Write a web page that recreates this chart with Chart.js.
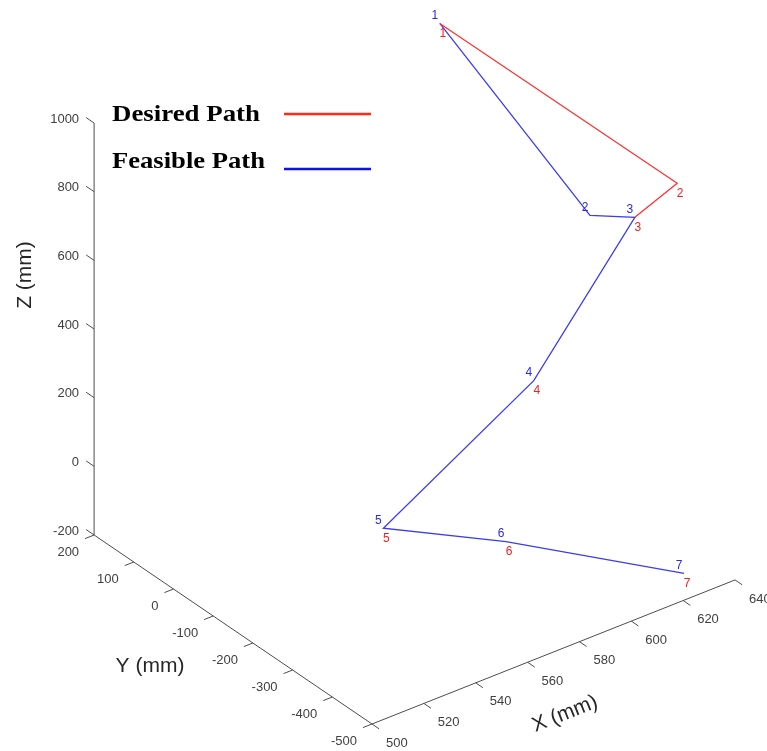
<!DOCTYPE html>
<html>
<head>
<meta charset="utf-8">
<title>Desired vs Feasible Path</title>
<script src="https://cdn.jsdelivr.net/npm/chart.js@4.4.1/dist/chart.umd.min.js"></script>
<style>
    html, body { margin: 0; padding: 0; background: #ffffff; }
    #pathChart { display: block; }
</style>
</head>
<body>
<canvas id="pathChart" width="767" height="751"></canvas>
<script>
// tick values of the three axes
const xTicks = [500, 520, 540, 560, 580, 600, 620, 640];
const yTicks = [200, 100, 0, -100, -200, -300, -400, -500];
const zTicks = [-200, 0, 200, 400, 600, 800, 1000];

// way points (mm)
const pointLabels = ['1', '2', '3', '4', '5', '6', '7'];
const desiredX = [618, 633, 632, 593, 535, 567, 628];
const desiredY = [100, -400, -300, -300, -300, -400, -450];
const desiredZ = [1015, 898, 723, 364, 108, 52, -184];
const feasibleX = [618, 630, 632, 593, 535, 567, 628];
const feasibleY = [100, -200, -300, -300, -300, -400, -450];
const feasibleZ = [1015, 656, 723, 364, 108, 52, -184];

// simple oblique view of the 3d box (axis corner + unit vectors)
const view = {
    x0: 500, y0: -500, z0: -200,
    ox: 372, oy: 724,
    ex: [2.593, -1.029],
    ey: [-0.397, -0.270],
    ez: [0, -0.3433]
};

function project(x, y, z) {
    const dx = x - view.x0, dy = y - view.y0, dz = z - view.z0;
    return {
        x: view.ox + dx * view.ex[0] + dy * view.ey[0] + dz * view.ez[0],
        y: view.oy + dx * view.ex[1] + dy * view.ey[1] + dz * view.ez[1]
    };
}

const xMin = xTicks[0], xMax = xTicks[xTicks.length - 1];
const yMin = yTicks[yTicks.length - 1], yMax = yTicks[0];
const zMin = zTicks[0], zMax = zTicks[zTicks.length - 1];

const axisColor = '#4d4d4d';
const redColor = '#ff3232';
const blueColor = '#3c3cf0';

function segment(a, b, color, width) {
    return {
        data: [a, b],
        showLine: true,
        borderColor: color,
        borderWidth: width,
        pointRadius: 0,
        clip: false
    };
}

// true when the desired point i is the same as the feasible one
function samePoint(i) {
    return desiredX[i] === feasibleX[i] && desiredY[i] === feasibleY[i] && desiredZ[i] === feasibleZ[i];
}

const datasets = [];
// box axes
datasets.push(segment(project(xMin, yMax, zMin), project(xMin, yMax, zMax), axisColor, 1));
datasets.push(segment(project(xMin, yMax, zMin), project(xMin, yMin, zMin), axisColor, 1));
datasets.push(segment(project(xMin, yMin, zMin), project(xMax, yMin, zMin), axisColor, 1));
// tick marks
zTicks.forEach(z => datasets.push(segment(project(xMin, yMax, z), project(xMin, yMax + 20, z), axisColor, 1)));
yTicks.forEach(y => datasets.push(segment(project(xMin, y, zMin), project(xMin - 3.5, y, zMin), axisColor, 1)));
xTicks.forEach(x => datasets.push(segment(project(x, yMin, zMin), project(x, yMin - 18, zMin), axisColor, 1)));

const desiredPts = desiredX.map((x, i) => project(x, desiredY[i], desiredZ[i]));
const feasiblePts = feasibleX.map((x, i) => project(x, feasibleY[i], feasibleZ[i]));

datasets.push({
    label: 'Desired Path',
    data: desiredPts,
    showLine: true,
    borderColor: redColor,
    borderWidth: 1.3,
    pointRadius: 0,
    clip: false,
    // the blue path is drawn on top where both paths coincide
    segment: {
        borderColor: c => (samePoint(c.p0DataIndex) && samePoint(c.p1DataIndex)) ? 'rgba(0,0,0,0)' : redColor
    }
});
datasets.push({
    label: 'Feasible Path',
    data: feasiblePts,
    showLine: true,
    borderColor: blueColor,
    borderWidth: 1.3,
    pointRadius: 0,
    clip: false
});

const textPlugin = {
    id: 'textPlugin',
    afterDatasetsDraw(chart) {
        const ctx = chart.ctx;
        const sx = chart.scales.x, sy = chart.scales.y;
        const px = p => ({ x: sx.getPixelForValue(p.x), y: sy.getPixelForValue(p.y) });
        ctx.save();

        // tick labels
        ctx.fillStyle = '#404040';
        ctx.font = '13px "Liberation Sans", Arial, sans-serif';
        ctx.textBaseline = 'middle';
        ctx.textAlign = 'right';
        zTicks.forEach(z => {
            const p = px(project(xMin, yMax, z));
            ctx.fillText(String(z), p.x - 15, p.y - 4);
        });
        yTicks.forEach(y => {
            const p = px(project(xMin, y, zMin));
            ctx.fillText(String(y), p.x - 15, p.y + 17);
        });
        ctx.textAlign = 'left';
        xTicks.forEach(x => {
            const p = px(project(x, yMin, zMin));
            ctx.fillText(String(x), p.x + 14, p.y + 19);
        });

        // axis titles
        ctx.fillStyle = '#262626';
        ctx.font = '21px "Liberation Sans", Arial, sans-serif';
        ctx.textAlign = 'center';
        ctx.fillText('Y (mm)', 150, 666);
        ctx.save();
        ctx.translate(25, 275);
        ctx.rotate(-Math.PI / 2);
        ctx.fillText('Z (mm)', 0, 0);
        ctx.restore();
        ctx.save();
        ctx.translate(565, 714);
        ctx.rotate(Math.atan2(view.ex[1], view.ex[0]));
        ctx.fillText('X (mm)', 0, 0);
        ctx.restore();

        // point numbers
        ctx.font = '12px "Liberation Sans", Arial, sans-serif';
        ctx.textAlign = 'center';
        desiredPts.forEach((q, i) => {
            const p = px(q);
            ctx.fillStyle = '#f02020';
            ctx.fillText(pointLabels[i], p.x + 3, p.y + 10);
        });
        feasiblePts.forEach((q, i) => {
            const p = px(q);
            ctx.fillStyle = '#2a2ae0';
            ctx.fillText(pointLabels[i], p.x - 5, p.y - 8);
        });

        // legend
        const legend = [
            { text: 'Desired Path', color: '#ff2a1a', base: 121, line: 114, width: 148 },
            { text: 'Feasible Path', color: '#1010ee', base: 168, line: 169, width: 153 }
        ];
        ctx.font = 'bold 24px "Liberation Serif", "Times New Roman", serif';
        ctx.textAlign = 'left';
        ctx.textBaseline = 'alphabetic';
        legend.forEach(item => {
            const w = ctx.measureText(item.text).width;
            ctx.save();
            ctx.translate(112, item.base);
            ctx.scale(item.width / w, 1);
            ctx.fillStyle = '#000000';
            ctx.fillText(item.text, 0, 0);
            ctx.restore();
            ctx.strokeStyle = item.color;
            ctx.lineWidth = 2.5;
            ctx.beginPath();
            ctx.moveTo(284, item.line);
            ctx.lineTo(371, item.line);
            ctx.stroke();
        });
        ctx.restore();
    }
};

new Chart(document.getElementById('pathChart'), {
    type: 'scatter',
    data: { datasets: datasets },
    options: {
        responsive: false,
        animation: false,
        layout: { padding: 0 },
        scales: {
            x: { type: 'linear', min: 0, max: 767, display: false },
            y: { type: 'linear', min: 0, max: 751, reverse: true, display: false }
        },
        plugins: {
            legend: { display: false },
            tooltip: { enabled: false }
        }
    },
    plugins: [textPlugin]
});
</script>
</body>
</html>
